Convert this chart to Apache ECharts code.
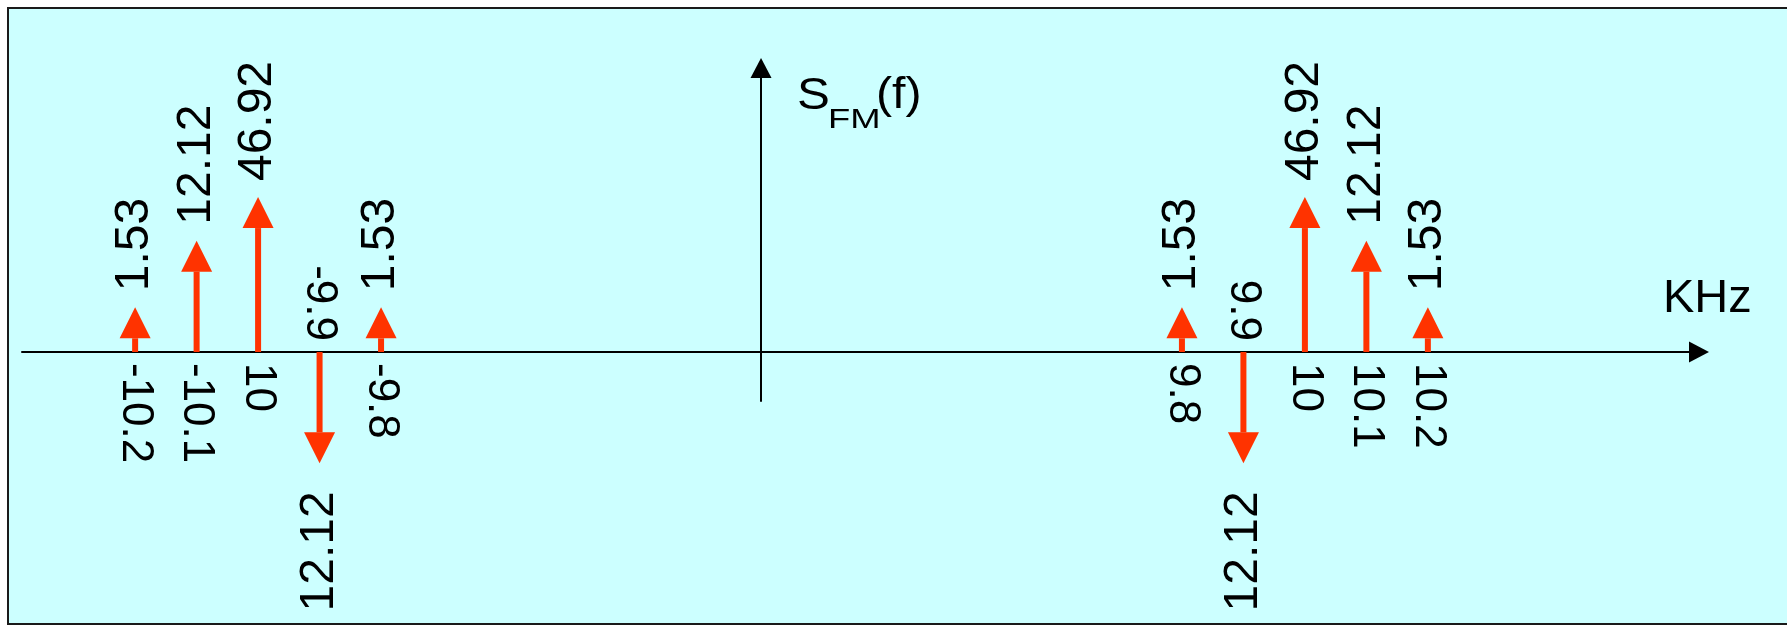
<!DOCTYPE html>
<html>
<head>
<meta charset="utf-8">
<title>FM spectrum</title>
<script src="https://cdn.jsdelivr.net/npm/echarts@6/dist/echarts.min.js"></script>
<style>
  html, body { margin: 0; padding: 0; background: #ffffff; overflow: hidden; }
  #frame {
    position: absolute; left: 7px; top: 7px; width: 1800px; height: 614px;
    background: #ccffff; border: 2px solid #1a1a1a;
  }
  #chart { position: absolute; left: 0; top: 0; width: 1787px; height: 626px; }
</style>
</head>
<body>
<div id="frame"></div>
<div id="chart"></div>
<script>
// Spectral lines of the FM signal, kHz
const frequencies = [-10.2, -10.1, -10.0, -9.9, -9.8, 9.8, 9.9, 10.0, 10.1, 10.2];
// Frequency labels as written under / over each line
const frequencyLabels = ['-10.2', '-10.1', '10', '-9.9', '-9.8', '9.8', '9.9', '10', '10.1', '10.2'];
// Line amplitudes (negative = line pointing downwards)
const amplitudes = [1.53, 12.12, 46.92, -12.12, 1.53, 1.53, -12.12, 46.92, 12.12, 1.53];

// Amplitude at which the frequency axis crosses the amplitude axis
const AXIS_CROSS = 0.3816;

const RED = '#ff3300';
const FONT = "'Liberation Sans', Arial, Helvetica, sans-serif";
const STEM_W = 6, HEAD_W = 31, HEAD_LEN = 31;
const VALUE_GAP_UP = 16, VALUE_GAP_DOWN = 28, FREQ_MARGIN = 11;

const chart = echarts.init(document.getElementById('chart'), null, { renderer: 'canvas' });

const seriesData = frequencies.map((f, i) => [f, amplitudes[i]]);

function renderLine(params, api) {
  const f = api.value(0);
  const amp = api.value(1);
  const base = api.coord([f, AXIS_CROSS]);
  const peak = api.coord([f, Math.abs(amp)]);
  const x = base[0];
  const y0 = base[1];
  const len = y0 - peak[1];
  const dir = amp < 0 ? 1 : -1;           // screen direction of the arrow
  const tipY = y0 + dir * len;
  const neckY = tipY - dir * HEAD_LEN;
  const down = amp < 0;
  return {
    type: 'group',
    children: [
      {
        type: 'rect',
        shape: { x: x - STEM_W / 2, y: Math.min(y0, neckY), width: STEM_W, height: Math.abs(neckY - y0) },
        style: { fill: RED }
      },
      {
        type: 'polygon',
        shape: { points: [[x - HEAD_W / 2, neckY], [x + HEAD_W / 2, neckY], [x, tipY]] },
        style: { fill: RED }
      },
      {
        type: 'text',
        x: x,
        y: tipY + dir * (down ? VALUE_GAP_DOWN : VALUE_GAP_UP),
        rotation: Math.PI / 2,
        style: {
          text: String(Math.abs(amp)),
          align: down ? 'right' : 'left',
          verticalAlign: 'middle',
          font: '48px ' + FONT,
          fill: '#000000'
        }
      },
      {
        type: 'text',
        x: x,
        y: y0 - dir * FREQ_MARGIN,
        rotation: -Math.PI / 2,
        style: {
          text: frequencyLabels[params.dataIndex],
          align: down ? 'right' : 'left',
          verticalAlign: 'middle',
          font: '44px ' + FONT,
          fill: '#000000'
        }
      }
    ]
  };
}

const hiddenParts = {
  axisTick: { show: false },
  axisLabel: { show: false },
  splitLine: { show: false }
};

const option = {
  backgroundColor: 'transparent',
  animation: false,
  grid: { left: 22, right: 88, top: 68, bottom: 225, containLabel: false, outerBoundsMode: 'none' },
  xAxis: [
    {
      // frequency scale, with the empty stretches between the line groups collapsed
      type: 'value',
      min: -10.384,
      max: 10.641,
      position: 'bottom',
      offset: -49,
      breaks: [
        { start: -9.75, end: -0.05, gap: 0.518 },
        { start: 0.05, end: 9.75, gap: 0.5846 }
      ],
      breakArea: { show: false },
      axisLine: { show: false, onZero: false },
      ...hiddenParts
    },
    {
      // continuous frequency axis line with its arrow head
      type: 'value',
      min: 0,
      max: 1,
      position: 'bottom',
      offset: -49,
      axisLine: {
        show: true,
        onZero: false,
        symbol: ['none', 'triangle'],
        symbolSize: [21, 20],
        lineStyle: { color: '#000000', width: 2 }
      },
      ...hiddenParts
    }
  ],
  yAxis: {
    type: 'log',
    logBase: 10,
    min: 0.0833,
    max: 2584,
    axisLine: {
      show: true,
      onZero: true,
      onZeroAxisIndex: 0,
      symbol: ['none', 'triangle'],
      symbolSize: [21, 20],
      lineStyle: { color: '#000000', width: 2 }
    },
    ...hiddenParts
  },
  graphic: [
    {
      type: 'text', x: 1663, y: 299, silent: true,
      style: { text: 'KHz', font: '47px ' + FONT, fill: '#000000', align: 'left', verticalAlign: 'middle' }
    },
    {
      type: 'text', x: 797, y: 97, scaleX: 1.12, silent: true,
      style: { text: 'S', font: '44px ' + FONT, fill: '#000000', align: 'left', verticalAlign: 'middle' }
    },
    {
      type: 'text', x: 828, y: 120, scaleX: 1.3, silent: true,
      style: { text: 'FM', font: '28px ' + FONT, fill: '#000000', align: 'left', verticalAlign: 'middle' }
    },
    {
      type: 'text', x: 876, y: 96, scaleX: 1.1, silent: true,
      style: { text: '(f)', font: '44px ' + FONT, fill: '#000000', align: 'left', verticalAlign: 'middle' }
    }
  ],
  series: [
    {
      type: 'custom',
      clip: false,
      xAxisIndex: 0,
      yAxisIndex: 0,
      renderItem: renderLine,
      encode: { x: 0, y: 1 },
      data: seriesData
    }
  ]
};

chart.setOption(option);
</script>
</body>
</html>
